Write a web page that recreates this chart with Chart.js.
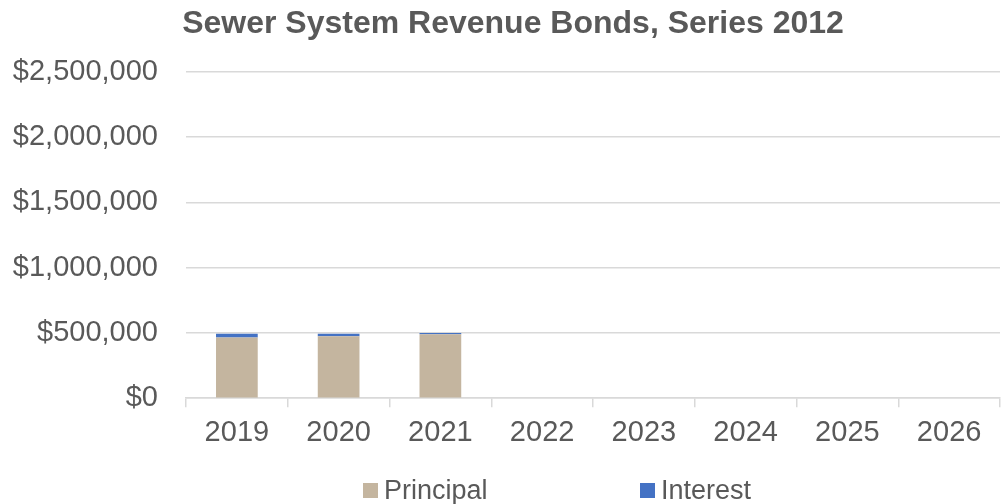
<!DOCTYPE html>
<html>
<head>
<meta charset="utf-8">
<script src="https://cdn.jsdelivr.net/npm/chart.js@4/dist/chart.umd.min.js"></script>
<style>
  html, body { margin: 0; padding: 0; background: #ffffff; }
  #wrap { position: relative; width: 1005px; height: 504px; font-family: "Liberation Sans", Arial, sans-serif; color: #595959; }
  #title {
    position: absolute; left: 0; top: 3px; width: 1026px; line-height: 38px;
    text-align: center; font-size: 32px; font-weight: bold; white-space: nowrap;
  }
  #legend { position: absolute; left: 0; top: 476px; width: 1005px; height: 28px; font-size: 27px; }
  .item { position: absolute; top: 0; display: flex; align-items: center; height: 28px; }
  .swatch { width: 15px; height: 15px; margin-right: 6px; }
</style>
</head>
<body>
<div id="wrap">
  <canvas id="chart" width="1005" height="504"></canvas>
  <div id="title"></div>
  <div id="legend"></div>
</div>
<script>
// Debt service schedule by fiscal year
const chartTitle = 'Sewer System Revenue Bonds, Series 2012';
const years = ['2019', '2020', '2021', '2022', '2023', '2024', '2025', '2026'];
const principal = [465000, 475000, 490000, null, null, null, null, null];
const interest = [28600, 19300, 9800, null, null, null, null, null];
const yTicks = [0, 500000, 1000000, 1500000, 2000000, 2500000];

const seriesNames = ['Principal', 'Interest'];
const seriesColors = ['#C4B59F', '#4472C4'];
const textColor = '#595959';
const gridColor = '#D9D9D9';
const fontFamily = '"Liberation Sans", Arial, sans-serif';

const money = v => '$' + Number(v).toLocaleString('en-US');

document.getElementById('title').textContent = chartTitle;

new Chart(document.getElementById('chart'), {
  type: 'bar',
  data: {
    labels: years,
    datasets: [
      { label: seriesNames[0], data: principal, backgroundColor: seriesColors[0] },
      { label: seriesNames[1], data: interest, backgroundColor: seriesColors[1] }
    ]
  },
  options: {
    responsive: false,
    animation: false,
    layout: { padding: { top: 72, right: 5, left: 0, bottom: 46 } },
    datasets: { bar: { barPercentage: 1, categoryPercentage: 0.41 } },
    plugins: {
      legend: { display: false },
      tooltip: { enabled: false },
      title: { display: false }
    },
    scales: {
      x: {
        stacked: true,
        grid: { offset: true, drawOnChartArea: false, color: gridColor, tickLength: 9, lineWidth: 1.5 },
        border: { color: gridColor, width: 1.5 },
        ticks: { color: textColor, font: { family: fontFamily, size: 29 }, padding: 8 }
      },
      y: {
        stacked: true,
        min: 0,
        max: 2500000,
        afterBuildTicks: axis => { axis.ticks = yTicks.map(v => ({ value: v })); },
        afterFit: axis => { axis.width = 186; },
        grid: { color: gridColor, drawTicks: false, lineWidth: 1.5 },
        border: { display: false },
        ticks: { color: textColor, font: { family: fontFamily, size: 29 }, padding: 28, callback: v => money(v) }
      }
    }
  }
});

// Legend row beneath the axis
const legend = document.getElementById('legend');
const legendX = [363, 640];
seriesNames.forEach((name, i) => {
  const item = document.createElement('div');
  item.className = 'item';
  item.style.left = legendX[i] + 'px';
  const sw = document.createElement('span');
  sw.className = 'swatch';
  sw.style.background = seriesColors[i];
  const label = document.createElement('span');
  label.textContent = name;
  item.appendChild(sw);
  item.appendChild(label);
  legend.appendChild(item);
});
</script>
</body>
</html>
